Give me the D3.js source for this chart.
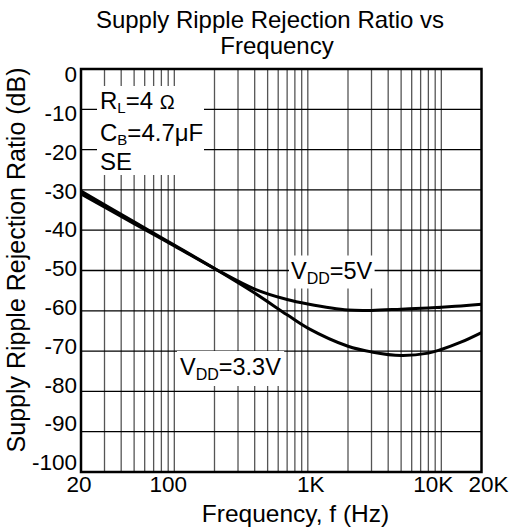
<!DOCTYPE html>
<html>
<head>
<meta charset="utf-8">
<script src="https://cdn.jsdelivr.net/npm/d3@7"></script>
<style>
  body { margin: 0; background: #fff; }
  text { font-family: Arial, "Liberation Sans", sans-serif; fill: #000; }
</style>
</head>
<body>
<script>
// values
const freqs = [20, 50, 100, 200, 400, 700, 1000, 2000, 3000, 5000, 8000, 10000, 14000, 20000]
const vdd5 = [-31, -38.4, -43.9, -49.5, -54.6, -57.2, -58.3, -59.8, -59.9, -59.6, -59.3, -59.1, -58.8, -58.4]
const vdd33 = [-30.3, -37.9, -43.7, -49.5, -55.6, -61, -64.3, -68.8, -70.2, -71.1, -70.5, -69.6, -67.8, -65.4]

const yTicks = [0, -10, -20, -30, -40, -50, -60, -70, -80, -90, -100]
const xTickVals = [20, 100, 1000, 10000, 20000]
const xTickText = ['20', '100', '1K', '10K', '20K']

const WIDTH = 513
const HEIGHT = 528
const margin = { top: 69, bottom: 56, left: 81, right: 31.5 }

const svg = d3.select('body').append('svg')
    .attr('width', WIDTH)
    .attr('height', HEIGHT);

const x = d3.scaleLog()
    .domain([20, 20000])
    .range([margin.left, WIDTH - margin.right]);

const y = d3.scaleLinear()
    .domain([0, -100])
    .range([margin.top, HEIGHT - margin.bottom]);

// tick labels in the original are squeezed a bit inside the frame
const yLab = d3.scaleLinear().domain([0, -100]).range([74, 462]);
const xNudge = { 20: -2, 100: -6, 1000: 3, 10000: -8, 20000: 7 }

// grid
const vgrid = x.ticks().filter(f => f > 20 && f < 20000)
svg.append('g')
    .attr('stroke', '#555')
    .attr('stroke-width', 1.3)
    .selectAll('line')
    .data(vgrid)
    .join('line')
        .attr('x1', d => x(d)).attr('x2', d => x(d))
        .attr('y1', y(0)).attr('y2', y(-100));

svg.append('g')
    .attr('stroke', '#000')
    .attr('stroke-width', 1.3)
    .selectAll('line')
    .data(yTicks.slice(1, -1))
    .join('line')
        .attr('x1', x(20)).attr('x2', x(20000))
        .attr('y1', d => y(d)).attr('y2', d => y(d));

// labels with white boxes behind them
function boxedLabel(px, py, parts, pad) {
    const g = svg.append('g');
    const t = g.append('text')
        .attr('x', px).attr('y', py)
        .attr('font-size', 23.5);
    parts.forEach(p => {
        t.append('tspan')
            .attr('font-size', p.size || 23.5)
            .attr('dy', p.dy || 0)
            .text(p.t);
    });
    const b = t.node().getBBox();
    g.insert('rect', 'text')
        .attr('x', b.x - pad[0]).attr('y', b.y - pad[1])
        .attr('width', b.width + pad[0] * 2).attr('height', b.height + pad[1] * 2)
        .attr('fill', '#fff');
    return g;
}

// condition box
svg.append('rect')
    .attr('x', 97).attr('y', 86)
    .attr('width', 107).attr('height', 89)
    .attr('fill', '#fff');
const cond = svg.append('g');
const l1 = cond.append('text').attr('x', 100).attr('y', 108.5).attr('font-size', 24);
l1.append('tspan').text('R');
l1.append('tspan').attr('font-size', 15).attr('dy', 4).text('L');
l1.append('tspan').attr('dy', -4).text('=4 ');
l1.append('tspan').attr('font-size', 20).text('Ω');
const l2 = cond.append('text').attr('x', 100).attr('y', 140.5).attr('font-size', 24);
l2.append('tspan').text('C');
l2.append('tspan').attr('font-size', 15).attr('dy', 4).text('B');
l2.append('tspan').attr('dy', -4).text('=4.7μF');
cond.append('text').attr('x', 100).attr('y', 170).attr('font-size', 24).text('SE');

// curve labels
boxedLabel(291, 278.5, [{ t: 'V' }, { t: 'DD', size: 16, dy: 5 }, { t: '=5V', dy: -5 }], [2, 2]);
boxedLabel(180, 375, [{ t: 'V' }, { t: 'DD', size: 16, dy: 5 }, { t: '=3.3V', dy: -5 }], [3, 3]);

// curves
const line = d3.line()
    .x(d => x(d[0]))
    .y(d => y(d[1]))
    .curve(d3.curveCatmullRom);

[vdd5, vdd33].forEach(s => {
    svg.append('path')
        .datum(freqs.map((f, i) => [f, s[i]]))
        .attr('fill', 'none')
        .attr('stroke', '#000')
        .attr('stroke-width', 3)
        .attr('d', line);
});

// frame
svg.append('rect')
    .attr('x', x(20)).attr('y', y(0))
    .attr('width', x(20000) - x(20)).attr('height', y(-100) - y(0))
    .attr('fill', 'none')
    .attr('stroke', '#000')
    .attr('stroke-width', 2.5);

// tick labels
svg.append('g')
    .selectAll('text')
    .data(yTicks)
    .join('text')
        .attr('x', 77)
        .attr('y', d => yLab(d))
        .attr('dy', '0.36em')
        .attr('text-anchor', 'end')
        .attr('font-size', 22.5)
        .text(d => d);

svg.append('g')
    .selectAll('text')
    .data(xTickVals)
    .join('text')
        .attr('x', d => x(d) + xNudge[d])
        .attr('y', 492)
        .attr('text-anchor', 'middle')
        .attr('font-size', 22.5)
        .text((d, i) => xTickText[i]);

// titles
svg.append('text')
    .attr('x', 270).attr('y', 28)
    .attr('text-anchor', 'middle')
    .attr('font-size', 24)
    .text('Supply Ripple Rejection Ratio vs');
svg.append('text')
    .attr('x', 277).attr('y', 54)
    .attr('text-anchor', 'middle')
    .attr('font-size', 24)
    .text('Frequency');

svg.append('text')
    .attr('x', 295.5).attr('y', 522)
    .attr('text-anchor', 'middle')
    .attr('font-size', 24.5)
    .text('Frequency, f (Hz)');

svg.append('text')
    .attr('transform', 'translate(25,260) rotate(-90)')
    .attr('text-anchor', 'middle')
    .attr('font-size', 25)
    .text('Supply Ripple Rejection Ratio (dB)');
</script>
</body>
</html>
